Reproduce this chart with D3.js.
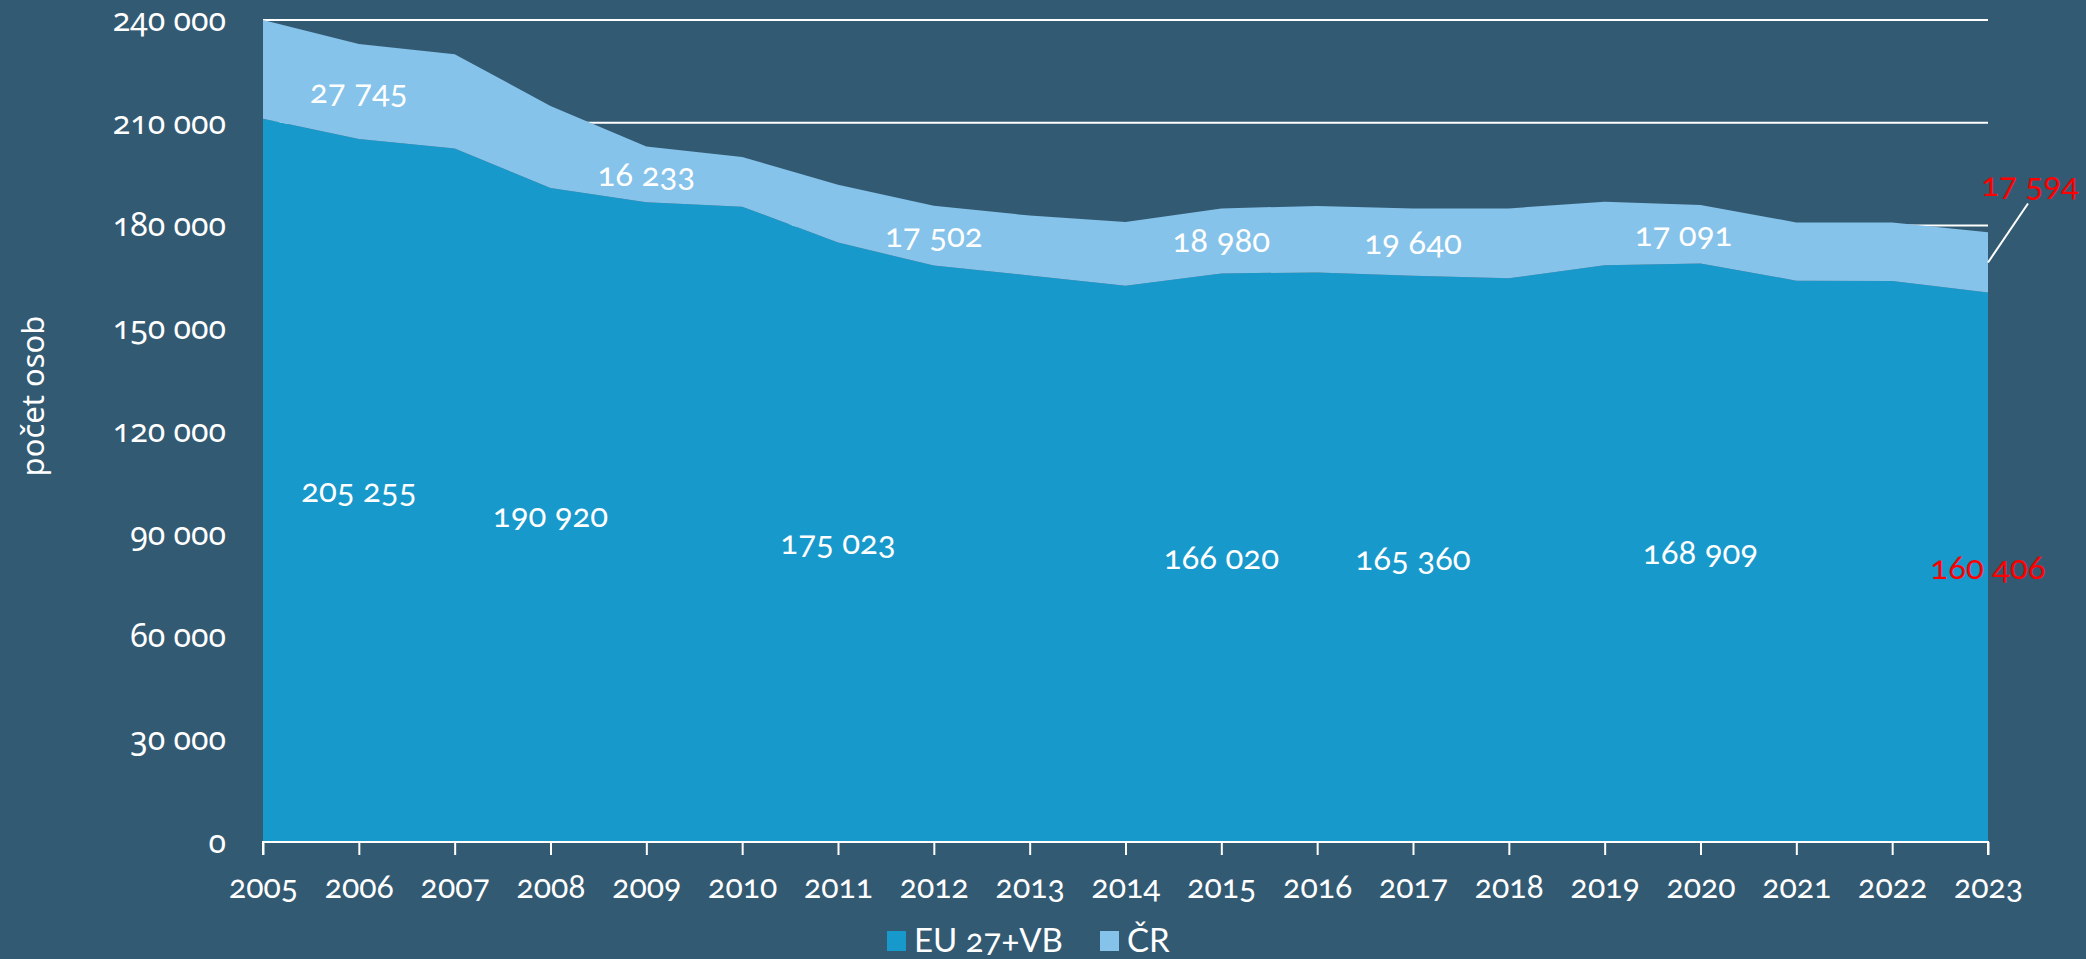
<!DOCTYPE html>
<html lang="cs">
<head>
<meta charset="utf-8">
<script src="https://cdn.jsdelivr.net/npm/d3@7"></script>
<style>
  html, body { margin: 0; padding: 0; background: #335a73; }
</style>
</head>
<body>
<div id="chart"></div>
<script>
// data
var years = [2005, 2006, 2007, 2008, 2009, 2010, 2011, 2012, 2013, 2014,
             2015, 2016, 2017, 2018, 2019, 2020, 2021, 2022, 2023];
var eu = [211200, 205255, 202500, 190920, 186800, 185500, 175023, 168300, 165400, 162400,
          166020, 166300, 165360, 164600, 168400, 168909, 163900, 163800, 160406];
var cr = [28800, 27745, 27500, 24000, 16233, 14500, 16900, 17502, 17500, 18600,
          18980, 19400, 19640, 20400, 18500, 17091, 17000, 17100, 17594];
var seriesNames = ["EU 27+VB", "ČR"];
var yTicks = [0, 30000, 60000, 90000, 120000, 150000, 180000, 210000, 240000];
// which years carry a value label
var euLabelYears = [2006, 2008, 2011, 2015, 2017, 2020, 2023];
var crLabelYears = [2006, 2009, 2012, 2015, 2017, 2020, 2023];

var width = 2086, height = 959;
var margin = {top: 20, right: 98, bottom: 117, left: 263};
var colors = {"EU 27+VB": "#1899cb", "ČR": "#86c3ea"};
var labelFont = '"Lato", "Noto Sans", sans-serif',
    axisFont = '"Noto Sans", "Open Sans", sans-serif';

var svg = d3.select("#chart").append("svg")
  .attr("width", width)
  .attr("height", height)
  .attr("lang", "cs")
  .attr("xml:lang", "cs");

var g = svg.append("g")
  .attr("transform", "translate(" + margin.left + "," + margin.top + ")");

var w = width - margin.left - margin.right,
    h = height - margin.top - margin.bottom;

var x = d3.scaleLinear().domain([2005, 2023]).range([0, w]);
var y = d3.scaleLinear().domain([0, 240000]).range([h, 0]);

var loc = d3.formatLocale({decimal: ",", thousands: " ", grouping: [3], currency: ["", ""]});
var fmt = loc.format(",d");

var rows = years.map(function(yr, i) {
  return {year: yr, "EU 27+VB": eu[i], "ČR": cr[i]};
});
var stacked = d3.stack().keys(seriesNames)(rows);

// gridlines behind the areas
g.append("g")
  .selectAll("line")
  .data(yTicks.filter(function(d) { return d > 0; }))
  .enter().append("line")
  .attr("x1", 0)
  .attr("x2", w)
  .attr("y1", function(d) { return y(d); })
  .attr("y2", function(d) { return y(d); })
  .attr("stroke", "#fff")
  .attr("stroke-width", 2);

var area = d3.area()
  .x(function(d) { return x(d.data.year); })
  .y0(function(d) { return y(d[0]); })
  .y1(function(d) { return y(d[1]); });

g.selectAll(".layer")
  .data(stacked)
  .enter().append("path")
  .attr("class", "layer")
  .attr("fill", function(d) { return colors[d.key]; })
  .attr("d", area);

// y axis
var yAxis = g.append("g")
  .call(d3.axisLeft(y).tickValues(yTicks).tickSize(0).tickPadding(37).tickFormat(fmt));
yAxis.select(".domain").remove();
yAxis.selectAll("text")
  .style("font-family", axisFont)
  .style("font-size", "32px");

// x axis
var xAxis = g.append("g")
  .attr("transform", "translate(0," + h + ")")
  .call(d3.axisBottom(x).tickValues(years).tickSize(13).tickPadding(20).tickFormat(d3.format("d")));
xAxis.select(".domain").attr("stroke", "#fff").attr("stroke-width", 2)
  .attr("d", "M0,13V0H" + w + "V13");
xAxis.selectAll("line").attr("stroke", "#fff").attr("stroke-width", 2);
xAxis.selectAll("text")
  .style("font-family", labelFont)
  .style("font-size", "32px");

// axis title
svg.append("text")
  .attr("transform", "translate(44,396) rotate(-90)")
  .attr("text-anchor", "middle")
  .style("font-family", axisFont)
  .style("font-size", "31px")
  .text("počet osob");

// value labels
function idx(yr) { return years.indexOf(yr); }

g.selectAll(".eu-label")
  .data(euLabelYears)
  .enter().append("text")
  .attr("class", "eu-label")
  .attr("x", function(d) { return x(d); })
  .attr("y", function(d) { return y(eu[idx(d)] / 2); })
  .attr("dy", "0.35em")
  .attr("text-anchor", "middle")
  .style("font-size", "33px")
  .style("fill", function(d) { return d === 2023 ? "#ff0000" : "#fff"; })
  .text(function(d) { return fmt(eu[idx(d)]); });

g.selectAll(".cr-label")
  .data(crLabelYears.filter(function(d) { return d !== 2023; }))
  .enter().append("text")
  .attr("class", "cr-label")
  .attr("x", function(d) { return x(d) + (d === 2020 ? -17 : 0); })
  .attr("y", function(d) { var i = idx(d); return y(eu[i] + cr[i] / 2); })
  .attr("dy", "0.35em")
  .attr("text-anchor", "middle")
  .style("font-size", "33px")
  .text(function(d) { return fmt(cr[idx(d)]); });

// last ČR value sits outside with a leader line
var iLast = years.length - 1;
var lastY = y(eu[iLast] + cr[iLast] / 2);
g.append("line")
  .attr("x1", x(2023))
  .attr("y1", lastY)
  .attr("x2", x(2023) + 40)
  .attr("y2", lastY - 59)
  .attr("stroke", "#fff")
  .attr("stroke-width", 2);
g.append("text")
  .attr("x", x(2023) + 42)
  .attr("y", lastY - 78)
  .attr("dy", "0.35em")
  .attr("text-anchor", "middle")
  .style("font-size", "33px")
  .style("fill", "#ff0000")
  .text(fmt(cr[iLast]));

// legend
var legend = svg.append("g").attr("transform", "translate(887,940)");
var lx = [0, 213];
seriesNames.forEach(function(name, i) {
  var item = legend.append("g").attr("transform", "translate(" + lx[i] + ",0)");
  item.append("rect")
    .attr("x", 0).attr("y", -9)
    .attr("width", 19).attr("height", 20)
    .attr("fill", colors[name]);
  item.append("text")
    .attr("x", 27)
    .attr("dy", "0.35em")
    .style("font-size", "33px")
    .text(name);
});

// shared text styling: white, old-style figures
svg.selectAll("text")
  .style("font-family", function() { return this.style.fontFamily || labelFont; })
  .style("fill", function() { return this.style.fill || "#fff"; })
  .style("font-variant-numeric", "oldstyle-nums")
  .style("font-feature-settings", '"onum" 1');
</script>
</body>
</html>
